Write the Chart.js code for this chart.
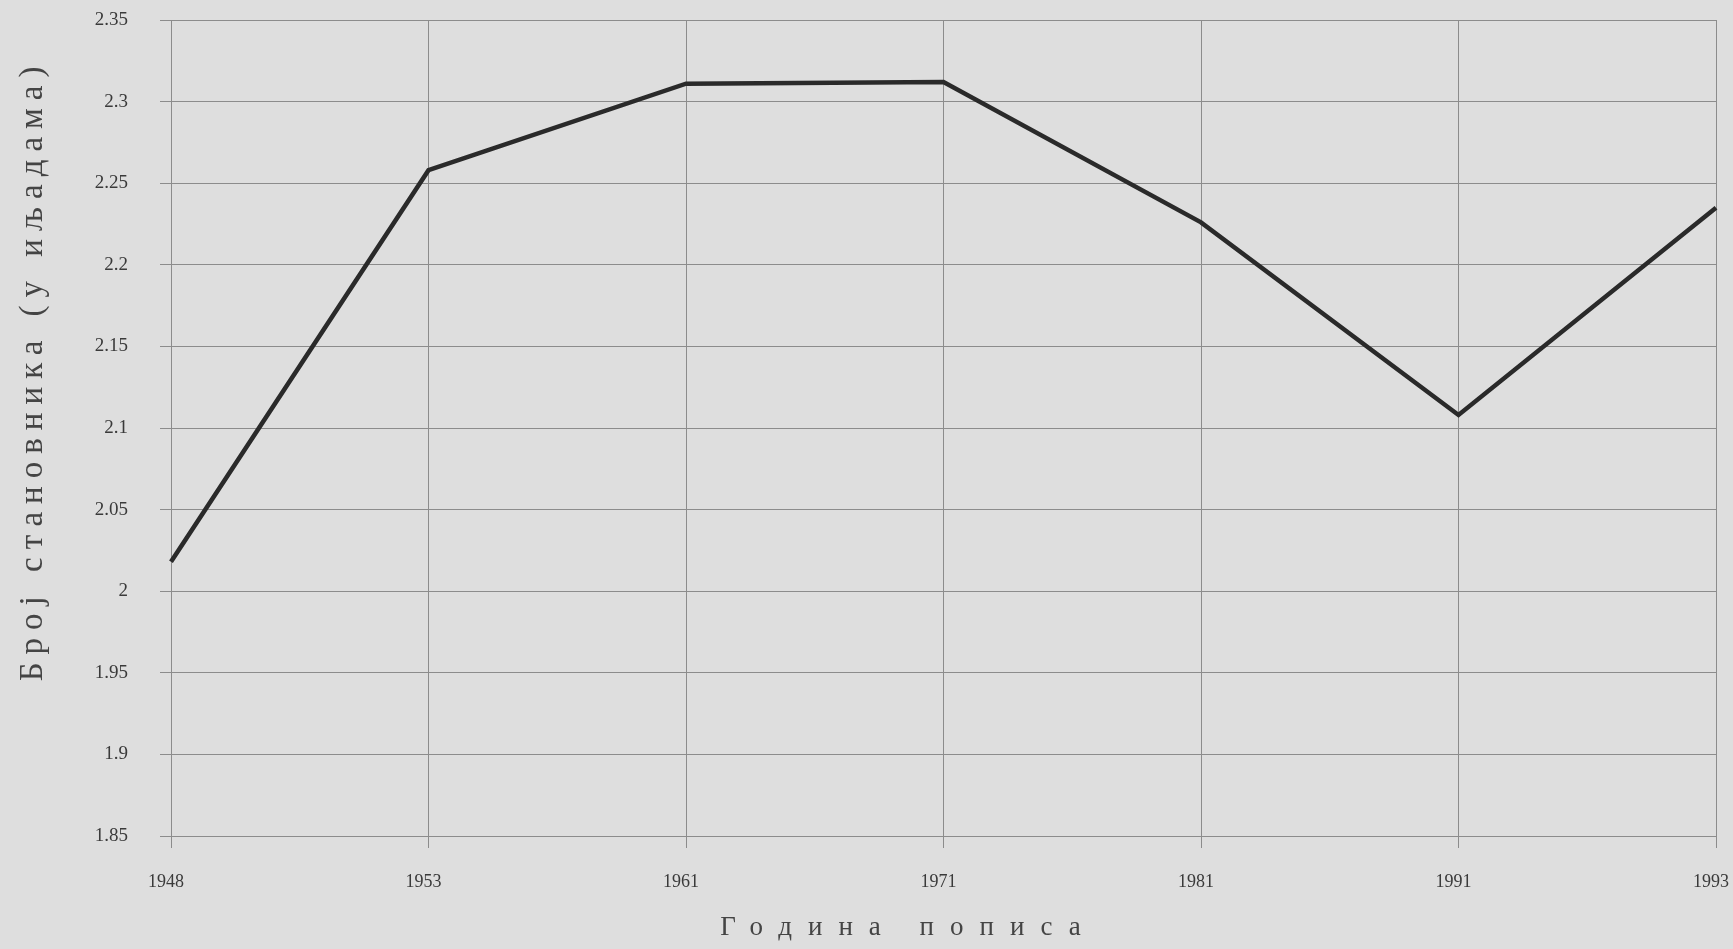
<!DOCTYPE html>
<html lang="sr">
<head>
    <meta charset="UTF-8">
    <title>Број становника по годинама пописа</title>
    <script src="https://cdn.jsdelivr.net/npm/chart.js"></script>
    <style>
        body {
            margin: 0;
            background: #dedede;
        }
        canvas {
            display: block;
        }
    </style>
</head>
<body>
    <canvas id="popChart" width="1733" height="949"></canvas>

    <script>
        // подаци очитани са графика
        const years = ['1948', '1953', '1961', '1971', '1981', '1991', '1993'];
        const population = [2.018, 2.258, 2.311, 2.312, 2.226, 2.108, 2.235];
        const yMin = 1.85;
        const yMax = 2.35;
        const yStep = 0.05;

        const xTitle = 'Година пописа';
        const yTitle = 'Број становника (у иљадама)';

        const gridColor = '#8c8c8c';
        const serif = "'Liberation Serif', 'DejaVu Serif', serif";

        // размак између слова у насловима оса и мали помак као на оригиналу
        const spacedTitles = {
            id: 'spacedTitles',
            afterLayout(chart) {
                Object.values(chart.scales).forEach(s => {
                    if (s._spaced) return;
                    const orig = s.drawTitle.bind(s);
                    const isX = s.axis === 'x';
                    s.drawTitle = function () {
                        const c = this.ctx;
                        c.save();
                        c.letterSpacing = isX ? '16px' : '8px';
                        if (isX) c.translate(-35, 0);
                        else c.translate(0, -58);
                        orig();
                        c.restore();
                    };
                    s._spaced = true;
                });
            }
        };

        const ctx = document.getElementById('popChart').getContext('2d');

        new Chart(ctx, {
            type: 'line',
            data: {
                labels: years,
                datasets: [{
                    data: population,
                    borderColor: '#2a2a2a',
                    borderWidth: 4.5,
                    pointRadius: 0,
                    tension: 0,
                    fill: false
                }]
            },
            options: {
                responsive: false,
                animation: false,
                layout: {
                    padding: { top: 20, right: 17, left: 0, bottom: 0 }
                },
                plugins: {
                    legend: { display: false },
                    tooltip: { enabled: false }
                },
                scales: {
                    x: {
                        offset: false,
                        grid: {
                            color: gridColor,
                            lineWidth: 1,
                            tickLength: 12,
                            drawTicks: true
                        },
                        border: { color: gridColor },
                        ticks: {
                            color: '#3a3a3a',
                            font: { family: serif, size: 18 },
                            padding: 23,
                            labelOffset: -5,
                            maxRotation: 0,
                            autoSkip: false
                        },
                        title: {
                            display: true,
                            text: xTitle,
                            color: '#444',
                            font: { family: serif, size: 27 },
                            padding: { top: 0, bottom: 5 }
                        },
                        afterFit(s) {
                            s.height = 113;
                            s.paddingLeft = 0;
                            s.paddingRight = 0;
                        }
                    },
                    y: {
                        min: yMin,
                        max: yMax,
                        grid: {
                            color: gridColor,
                            lineWidth: 1,
                            tickLength: 11
                        },
                        border: { color: gridColor },
                        ticks: {
                            stepSize: yStep,
                            color: '#3a3a3a',
                            font: { family: serif, size: 19 },
                            padding: 32,
                            callback: v => String(Math.round(v * 100) / 100)
                        },
                        title: {
                            display: true,
                            text: yTitle,
                            color: '#444',
                            font: { family: serif, size: 33 },
                            padding: { top: 14, bottom: 0 }
                        },
                        afterFit(s) {
                            s.width = 171;
                            s.paddingTop = 0;
                            s.paddingBottom = 0;
                        }
                    }
                }
            },
            plugins: [spacedTitles]
        });
    </script>
</body>
</html>
